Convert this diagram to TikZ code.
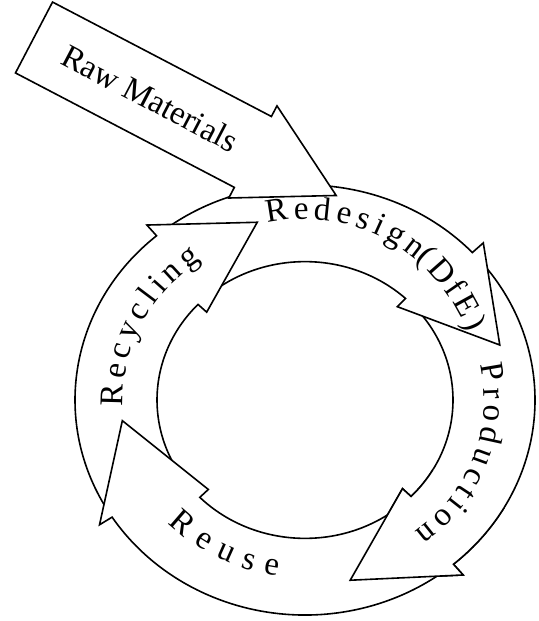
\documentclass[tikz,border=0pt]{standalone}
\usepackage{fontspec}
\setmainfont{Liberation Serif}
\usetikzlibrary{decorations.text}
\newcommand{\labelfont}{\fontsize{16.5}{20}\selectfont}
% ring arrow: tail out, tail in, base out, base in, tip angle, tip radius
\newcommand{\ringarrow}[6]{%
  \filldraw[flow] (#1:230) arc[start angle=#1, end angle=#3, radius=230] -- (#3:245) -- (#5:#6)
    -- (#4:136) -- (#4:148) arc[start angle=#4, end angle=#2, radius=148] -- cycle;}
\tikzset{
  every picture/.style={line width=0.8pt},
  flow/.style={draw=black, fill=white, line join=miter},
  ringtext/.style={decorate, decoration={text along path, text align={fit to path}, text={|\labelfont|#1}}},
}

\begin{document}
\begin{tikzpicture}[x=0.5pt, y=0.5pt]
  \path[use as bounding box, fill=white] (0,0) rectangle (538,-621);
  \begin{scope}[shift={(305,-400)}, yscale=0.935]
    \ringarrow{41}{44.5}{-49.8}{-44.2}{-76.8}{198}
    \ringarrow{128}{132}{43.3}{47.2}{16.8}{203.5}
    \ringarrow{210.5}{221.5}{130.2}{136.3}{104.1}{196}
    \ringarrow{-52.5}{-48}{-147}{-135.3}{-173.1}{184}
    \begin{scope}
      \clip (0,0) -- (-100:300) arc[start angle=-100, end angle=-30, radius=300] -- cycle;
      \ringarrow{41}{44.5}{-49.8}{-44.2}{-76.8}{198}
    \end{scope}
  \end{scope}
  \begin{scope}[shift={(305,-400)}]
    \path[ringtext={Redesign}]
      (102.4:175 and 181) arc[start angle=102.4, end angle=50.7, x radius=175, y radius=181];
    \path[ringtext={(DfE)}, decoration={text align=center}]
      (50.7:175 and 181) arc[start angle=50.7, end angle=22, x radius=175, y radius=181];
    \path[ringtext={Production}]
      (12.1:179 and 167.4) arc[start angle=12.1, end angle=-52.1, x radius=179, y radius=167.4];
    \path[ringtext={Reuse}]
      (223.8:190 and 177.7) arc[start angle=223.8, end angle=261.8, x radius=190, y radius=177.7];
    \path[ringtext={Recycling}]
      (182.3:182 and 170.2) arc[start angle=182.3, end angle=124.8, x radius=182, y radius=170.2];
  \end{scope}
  \begin{scope}[shift={(34,-37.5)}, rotate=-27.6]
    \filldraw[flow] (0,40) -- (247,40) -- (247,52) -- (341,0) -- (247,-52) -- (247,-40) -- (0,-40) -- cycle;
    \node[rotate=-27.6, font=\labelfont] (raw) at (131,0) {Raw Materials};
  \end{scope}
\end{tikzpicture}
\end{document}
